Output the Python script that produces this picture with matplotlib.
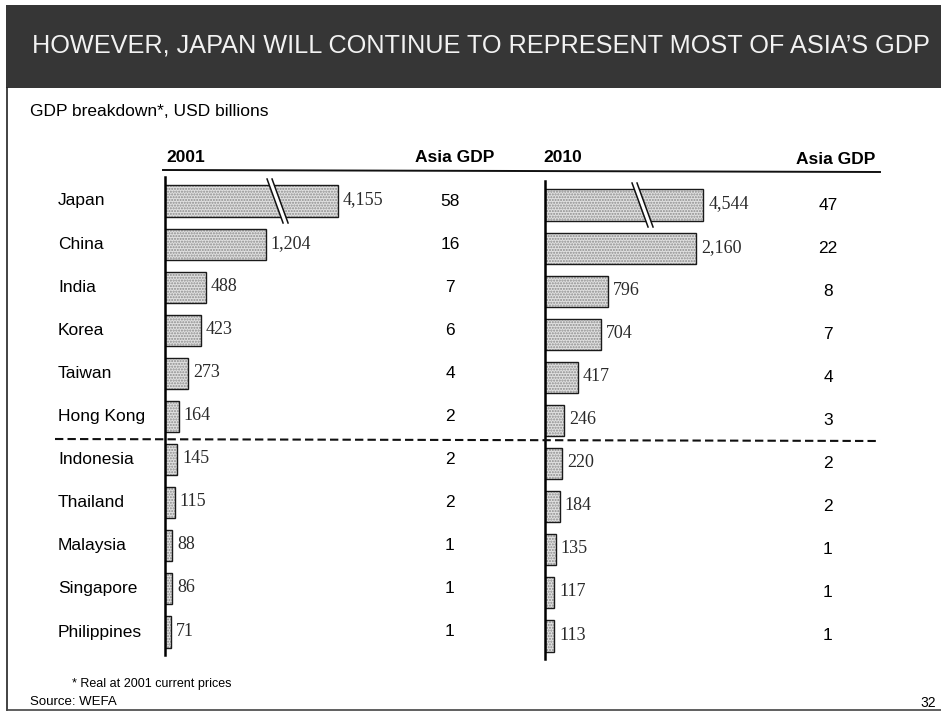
import numpy as np
import matplotlib
matplotlib.use('Agg')
import matplotlib.pyplot as plt
from matplotlib.patches import Rectangle, Polygon
from matplotlib.lines import Line2D
from matplotlib.transforms import IdentityTransform

countries = ['Japan', 'China', 'India', 'Korea', 'Taiwan', 'Hong Kong',
             'Indonesia', 'Thailand', 'Malaysia', 'Singapore', 'Philippines']
gdp_2001 = [4155, 1204, 488, 423, 273, 164, 145, 115, 88, 86, 71]
gdp_2010 = [4544, 2160, 796, 704, 417, 246, 220, 184, 135, 117, 113]
share_2001 = [58, 16, 7, 6, 4, 2, 2, 2, 1, 1, 1]
share_2010 = [47, 22, 8, 7, 4, 3, 2, 2, 1, 1, 1]

W, H = 941, 714
SANS = 'Liberation Sans'
SERIF = 'Liberation Serif'


def fx(x):
    return x / W


def fy(y):
    return 1 - y / H


def broken(b, k):
    # linear up to b, squeezed by k beyond it (axis break)
    def fwd(x):
        x = np.asarray(x, dtype=float)
        return np.where(x <= b, x, b + (x - b) * k)

    def inv(u):
        u = np.asarray(u, dtype=float)
        return np.where(u <= b, u, b + (u - b) / k)
    return fwd, inv


fig = plt.figure(figsize=(W / 100, H / 100), dpi=100)
fig.patch.set_facecolor('white')

# title band
fig.add_artist(Rectangle((fx(6), fy(88)), fx(W - 6), (88 - 5) / H,
                         transform=fig.transFigure, fc='#363636', ec='none'))
title = fig.text(fx(32), fy(46), "HOWEVER, JAPAN WILL CONTINUE TO REPRESENT MOST OF ASIA\u2019S GDP",
                 color='#f2f2f2', fontsize=21, family=['Liberation Sans Narrow', SANS],
                 ha='left', va='center')
r = fig.canvas.get_renderer()
tw = title.get_window_extent(r).width
title.set_fontsize(21 * 893 / tw)

# slide frame
fig.add_artist(Line2D([fx(7), fx(7)], [fy(88), fy(710)], color='#222', lw=1.2))
fig.add_artist(Line2D([fx(7), fx(W)], [fy(710), fy(710)], color='#444', lw=1.2))

fig.text(fx(30), fy(112), 'GDP breakdown*, USD billions', fontsize=12.5, family=SANS,
         ha='left', va='center')

# column headers
hdr = dict(fontsize=12.5, family=SANS, fontweight='bold', va='center')
fig.text(fx(166), fy(157), '2001', ha='left', **hdr)
fig.text(fx(455), fy(157), 'Asia GDP', ha='center', **hdr)
fig.text(fx(543), fy(157), '2010', ha='left', **hdr)
fig.text(fx(836), fy(160), 'Asia GDP', ha='center', **hdr)
fig.add_artist(Line2D([fx(163), fx(880)], [fy(170), fy(172)], color='#111', lw=1.4))

# (values, shares, axis x px, y shift px, px per unit, break start, squeeze, break mark value, share x px)
panels = [
    (gdp_2001, share_2001, 165, 0, 0.084, 1200, 0.29, 1580, 450),
    (gdp_2010, share_2010, 545, 4, 0.079, 1900, 0.04, 1203, 828),
]

pitch = 43.1
for vals, shares, x0, dy, ppu, b, k, brk, sx in panels:
    top, bot = 177 + dy, 655 + dy
    ax = fig.add_axes([fx(x0), fy(bot), 240 / W, (bot - top) / H])
    fwd, inv = broken(b, k)
    ax.set_xscale('function', functions=(fwd, inv))
    ax.set_xlim(0, float(inv(240 / ppu)))
    ax.set_ylim((bot - top - 24) / pitch, -24 / pitch)
    ax.patch.set_alpha(0)
    for s in ['top', 'right', 'bottom']:
        ax.spines[s].set_visible(False)
    ax.spines['left'].set_linewidth(1.8)
    ax.spines['left'].set_zorder(5)
    ax.set_xticks([])
    ax.set_yticks([])

    rows = np.arange(len(vals))
    ax.barh(rows, vals, height=0.72, color='#e0e0e0', edgecolor='#8c8c8c',
            hatch='......', lw=0)
    ax.barh(rows, vals, height=0.72, fill=False, edgecolor='#1a1a1a', lw=1.0)

    for i, v in enumerate(vals):
        ax.annotate(f'{v:,}', (v, i), xytext=(5, 1), textcoords='offset pixels',
                    ha='left', va='center', fontsize=13, family=SERIF, color='#2a2a2a')
    for i, s in enumerate(shares):
        ax.text((sx - x0) / 240, i, str(s), transform=ax.get_yaxis_transform(),
                ha='center', va='center', fontsize=12.5, family=SANS)

    # break mark across the Japan bar
    px, py = ax.transData.transform((brk, 0))
    hh, sl, gap = 22, 8, 5
    ax.add_artist(Polygon([(px - sl, py + hh), (px - sl + gap, py + hh),
                           (px + sl + gap, py - hh), (px + sl, py - hh)],
                          closed=True, fc='white', ec='none',
                          transform=IdentityTransform(), zorder=4))
    for off in (0, gap):
        ax.add_artist(Line2D([px - sl + off, px + sl + off], [py + hh, py - hh],
                             color='#111', lw=1.1, transform=IdentityTransform(), zorder=4))

    if x0 == 165:
        for i, name in enumerate(countries):
            ax.text((58 - x0) / 240, i, name, transform=ax.get_yaxis_transform(),
                    ha='left', va='center', fontsize=12.5, family=SANS)

# divider between the big and small economies
fig.add_artist(Line2D([fx(55), fx(880)], [fy(439), fy(441)], color='#111', lw=1.5,
                      dashes=(4, 2)))

fig.text(fx(72), fy(684), '* Real at 2001 current prices', fontsize=9, family=SANS,
         ha='left', va='center')
fig.text(fx(30), fy(702), 'Source: WEFA', fontsize=9.5, family=SANS, ha='left', va='center')
fig.text(fx(928), fy(703), '32', fontsize=10, family=SANS, ha='center', va='center')

fig.savefig('out.png', dpi=100)
